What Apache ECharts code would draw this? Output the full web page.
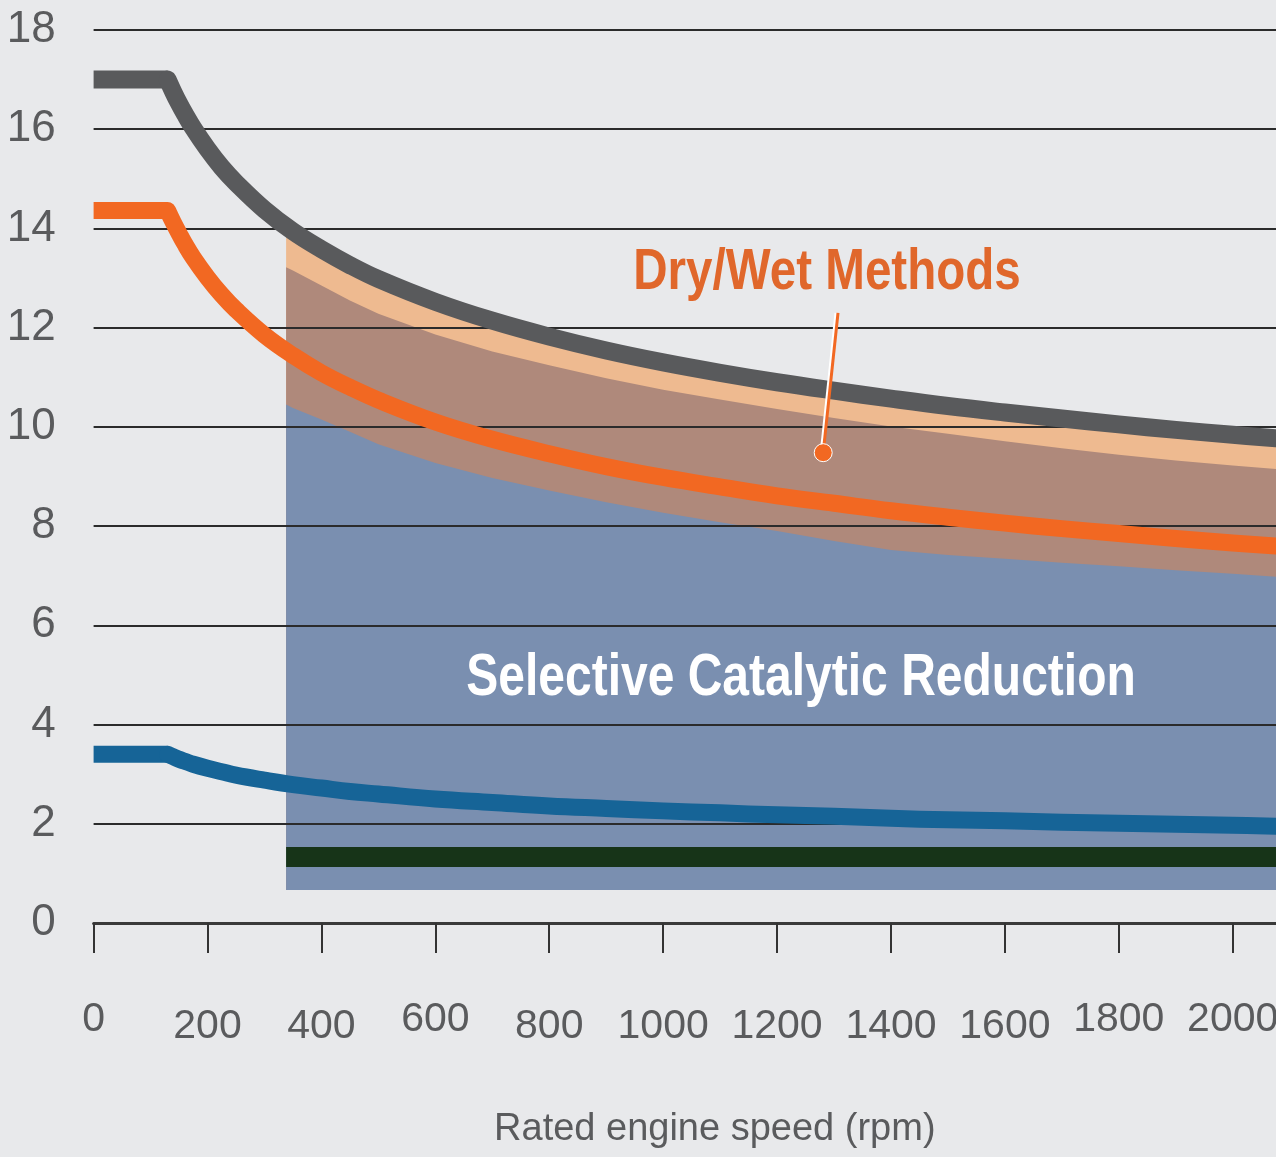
<!DOCTYPE html>
<html>
<head>
<meta charset="utf-8">
<script src="https://cdn.jsdelivr.net/npm/echarts@6/dist/echarts.min.js"></script>
<style>
html,body{margin:0;padding:0;background:#E8E9EB;overflow:hidden;}
#chart{width:1276px;height:1157px;}
</style>
</head>
<body>
<div id="chart"></div>
<script>
// ---- data ----
const rpm = [0,130,140,150,160,175,200,225,250,300,350,400,450,500,600,700,800,900,1000,1100,1200,1300,1400,1500,1600,1700,1800,1900,2000,2076];
const tierI = [17.0,17.0,16.75,16.52,16.31,16.02,15.60,15.23,14.92,14.38,13.94,13.58,13.26,12.98,12.52,12.14,11.82,11.54,11.30,11.09,10.90,10.73,10.57,10.42,10.29,10.17,10.05,9.94,9.84,9.77];
const tierII = [14.36,14.36,14.12,13.90,13.69,13.41,13.01,12.66,12.36,11.85,11.44,11.09,10.80,10.54,10.10,9.75,9.46,9.20,8.98,8.79,8.61,8.46,8.31,8.18,8.06,7.95,7.85,7.75,7.66,7.60];
const tierIII = [3.40,3.40,3.35,3.30,3.26,3.20,3.12,3.05,2.98,2.88,2.79,2.72,2.65,2.60,2.50,2.43,2.36,2.31,2.26,2.22,2.18,2.15,2.11,2.08,2.06,2.03,2.01,1.99,1.97,1.95];

const bandRpm = [338,350,400,450,500,600,700,800,900,1000,1100,1200,1300,1400,1500,1600,1700,1800,1900,2000,2076];
const scrBottom = [0.665,0.665,0.665,0.665,0.665,0.665,0.665,0.665,0.665,0.665,0.665,0.665,0.665,0.665,0.665,0.665,0.665,0.665,0.665,0.665,0.665];
const scrTop = [10.45,10.38,10.15,9.90,9.65,9.27,8.97,8.72,8.48,8.27,8.08,7.90,7.70,7.52,7.42,7.34,7.26,7.19,7.11,7.04,6.98];
const dryWetTop = [13.22,13.15,12.85,12.55,12.28,11.86,11.52,11.24,10.98,10.75,10.55,10.36,10.18,10.01,9.86,9.71,9.57,9.44,9.32,9.22,9.15];
const upperTop = [14.04,13.94,13.58,13.26,12.98,12.52,12.14,11.82,11.54,11.30,11.09,10.90,10.73,10.57,10.42,10.29,10.17,10.05,9.94,9.84,9.77];

const refLineRpm = [338,2076];
const refLineValue = [1.33,1.33];

const calloutRpm = [1307,1281];
const calloutValue = [12.3,9.48];

const xTicks = [0,200,400,600,800,1000,1200,1400,1600,1800,2000];
const xTicksRaised = [0,600,1800,2000];
const yTicks = [0,2,4,6,8,10,12,14,16,18];

const labelDryWet = 'Dry/Wet Methods';
const labelSCR = 'Selective Catalytic Reduction';
const axisTitleX = 'Rated engine speed (rpm)';

// ---- build ----
const pairs = (xs, ys) => xs.map((x, i) => [x, ys[i]]);
const BG = '#E8E9EB';
const FONT = '"Liberation Sans", Arial, sans-serif';

const chart = echarts.init(document.getElementById('chart'), null, { width: 1276, height: 1157 });

// band polygon between an upper boundary and the lower boundary, through the axes' scales
function band(name, upper, lower, color) {
  return {
    name, type: 'custom', z: 1, silent: true, clip: true,
    data: [[bandRpm[0], lower[0]]],
    renderItem: (params, api) => {
      const top = bandRpm.map((x, i) => api.coord([x, upper[i]]));
      const bot = bandRpm.map((x, i) => api.coord([x, lower[i]])).reverse();
      return { type: 'polygon', shape: { points: top.concat(bot) }, style: { fill: color } };
    }
  };
}
function curve(name, xs, ys, color, width, z, smooth, cap) {
  return {
    name, type: 'line', symbol: 'none', z: z || 4, silent: true, smooth: smooth || false,
    data: pairs(xs, ys),
    lineStyle: { color, width, cap: cap || 'butt', join: 'miter' }
  };
}
// flat part + curved part of each limit line
function limit(name, ys, color, width) {
  return [
    curve(name, rpm.slice(0, 2), ys.slice(0, 2), color, width, 4, false, 'butt'),
    curve(name, rpm.slice(1), ys.slice(1), color, width, 4, 0.4, 'round')
  ];
}

const option = {
  backgroundColor: BG,
  animation: false,
  grid: { left: 93.6, right: 0, top: 30, bottom: 234, containLabel: false, outerBoundsMode: 'none' },
  xAxis: {
    type: 'value', min: 0, max: 2076, z: 2,
    name: axisTitleX, nameLocation: 'middle', nameGap: 188,
    nameTextStyle: { fontFamily: FONT, fontSize: 38, color: '#5A5B5D', padding: [0, 0, 0, 60] },
    axisLine: { show: true, lineStyle: { color: '#3a3a3a', width: 3 } },
    axisTick: { show: true, length: 30, customValues: xTicks, lineStyle: { color: '#333', width: 2 } },
    splitLine: { show: false },
    axisLabel: {
      customValues: xTicks, margin: 76, hideOverlap: false,
      formatter: v => (xTicksRaised.indexOf(v) >= 0 ? '{u|' + v + '}' : '{d|' + v + '}'),
      rich: {
        u: { fontFamily: FONT, fontSize: 41, color: '#5A5B5D', lineHeight: 41 },
        d: { fontFamily: FONT, fontSize: 41, color: '#5A5B5D', lineHeight: 55 }
      }
    }
  },
  yAxis: {
    type: 'value', min: 0, max: 18, interval: 2, z: 2,
    axisLine: { show: false }, axisTick: { show: false },
    splitLine: { show: true, lineStyle: { color: '#2b2b2b', width: 2 } },
    axisLabel: {
      margin: 38, fontFamily: FONT, fontSize: 44, color: '#5A5B5D',
      formatter: v => yTicks.indexOf(v) >= 0 ? String(v) : ''
    }
  },
  series: [
    band('Upper band', upperTop, scrBottom, '#EEBA90'),
    band('Dry/Wet Methods', dryWetTop, scrBottom, '#AF897B'),
    band('Selective Catalytic Reduction', scrTop, scrBottom, '#7A8FB0'),
    curve('SCR reference', refLineRpm, refLineValue, '#173418', 20, 3),
    ...limit('Tier III', tierIII, '#166497', 17),
    ...limit('Tier II', tierII, '#F26822', 17),
    ...limit('Tier I', tierI, '#595A5C', 18),
    {
      name: 'callout', type: 'line', symbol: 'none', z: 6, silent: true,
      data: pairs(calloutRpm, calloutValue),
      lineStyle: { color: '#F26822', width: 3, shadowColor: '#ffffff', shadowBlur: 0, shadowOffsetX: -2 }
    },
    {
      name: 'callout dot', type: 'scatter', z: 7, silent: true,
      data: [pairs(calloutRpm, calloutValue)[1]],
      symbol: 'circle', symbolSize: 18,
      itemStyle: { color: '#F26822', borderColor: '#ffffff', borderWidth: 1, opacity: 1 }
    }
  ],
  graphic: [
    { type: 'text', z: 20, x: 827, y: 273, scaleX: 0.82,
      style: { text: labelDryWet, font: 'bold 58px ' + FONT, fill: '#E0672B', align: 'center', verticalAlign: 'middle' } },
    { type: 'text', z: 20, x: 801, y: 678, scaleX: 0.80,
      style: { text: labelSCR, font: 'bold 60px ' + FONT, fill: '#ffffff', align: 'center', verticalAlign: 'middle' } }
  ]
};
chart.setOption(option);
</script>
</body>
</html>
